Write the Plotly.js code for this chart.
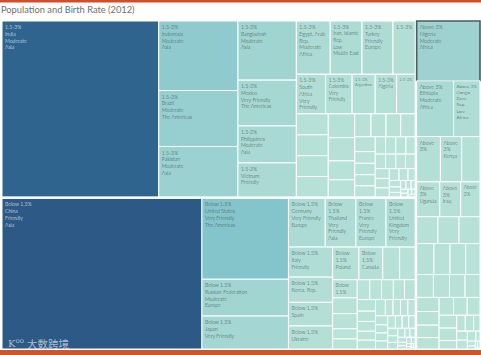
<!DOCTYPE html>
<html><head><meta charset="utf-8">
<script src="https://cdn.plot.ly/plotly-3.0.1.min.js"></script>
<style>html,body{margin:0;padding:0;background:#fff}#chart{width:481px;height:355px}</style>
</head><body><div id="chart"></div>
<script>
// ---- Birth-rate group "1.5-3%" ----
const midCountries = ['India','Indonesia','Brazil','Pakistan','Bangladesh','Mexico','Philippines','Vietnam','Egypt, Arab Rep.','Iran, Islamic Rep.','Turkey','Myanmar','South Africa','Colombia','Argentina','Algeria','Morocco','Peru','Venezuela','Uzbekistan','Malaysia','Saudi Arabia','Nepal','Syria','Sri Lanka','Kazakhstan','Ecuador','Guatemala','Cambodia','Zimbabwe','Tunisia','Bolivia','Dominican Republic','Haiti','Tajikistan','Honduras','Israel','Papua New Guinea','Paraguay','Lao PDR','Jordan','El Salvador','Libya','Nicaragua','Kyrgyz Republic','Turkmenistan','Costa Rica','Panama','Oman','Mongolia','Namibia','Lesotho','Botswana','Gabon','Bahrain','Swaziland','Fiji','Guyana','Bhutan'];
const midPop = [1237,247,199,179,155,120,97,89,81,76,74,53,52,47,41,38,33,30,30,29.8,29.2,28.3,27.5,22.4,20.3,16.8,15.5,15.1,14.9,13.7,10.8,10.5,10.3,10.2,8.0,7.9,7.9,7.2,6.7,6.6,6.3,6.3,6.2,6.0,5.6,5.2,4.8,3.8,3.3,2.8,2.3,2.1,2.0,1.6,1.3,1.2,0.87,0.8,0.75];
const midLabels = ['1.5-3%<br>India<br>Moderate<br>Asia','1.5-3%<br>Indonesia<br>Moderate<br>Asia','1.5-3%<br>Brazil<br>Moderate<br>The Americas','1.5-3%<br>Pakistan<br>Moderate<br>Asia','1.5-3%<br>Bangladesh<br>Moderate<br>Asia','1.5-3%<br>Mexico<br>Very Friendly<br>The Americas','1.5-3%<br>Philippines<br>Moderate<br>Asia','1.5-3%<br>Vietnam<br>Friendly','1.5-3%<br>Egypt, Arab<br>Rep.<br>Moderate<br>Africa','1.5-3%<br>Iran, Islamic<br>Rep.<br>Low<br>Middle East','1.5-3%<br>Turkey<br>Friendly<br>Europe','1.5-3%','1.5-3%<br>South<br>Africa<br>Very<br>Friendly','1.5-3%<br>Colombia<br>Very<br>Friendly','1.5-3%<br>Argentina','1.5-3%<br>Algeria','1.5-3%'];

// ---- Birth-rate group "Below 1.5%" ----
const lowCountries = ['China','United States','Russian Federation','Japan','Germany','Thailand','France','United Kingdom','Italy','Korea, Rep.','Spain','Ukraine','Poland','Canada','Korea, Dem. Rep.','Australia','Romania','Chile','Netherlands','Cuba','Belgium','Greece','Czech Republic','Portugal','Hungary','Sweden','Belarus','Austria','Switzerland','Bulgaria','Serbia','Hong Kong SAR','Denmark','Slovak Republic','Finland','Singapore','Norway','Georgia','New Zealand','Lebanon','Croatia','Bosnia and Herzegovina','Puerto Rico','Moldova','Uruguay','Armenia','Lithuania','Albania','Slovenia','Macedonia','Latvia','Estonia','Trinidad and Tobago','Mauritius','Cyprus','Montenegro','Luxembourg','Malta','Iceland','Barbados'];
const lowPop = [1351,314,143,128,80.4,67,65.7,63.7,59.5,50,46.8,45.6,38.5,34.9,24.8,22.7,20.1,17.5,16.8,11.3,11.1,11.1,10.5,10.5,9.9,9.5,9.5,8.4,8.0,7.3,7.2,7.2,5.6,5.4,5.4,5.3,5.0,4.5,4.4,4.4,4.3,3.8,3.7,3.6,3.4,3.0,3.0,2.8,2.1,2.1,2.0,1.3,1.3,1.3,1.1,0.6,0.5,0.4,0.3,0.3];
const lowLabels = ['Below 1.5%<br>China<br>Friendly<br>Asia','Below 1.5%<br>United States<br>Very Friendly<br>The Americas','Below 1.5%<br>Russian Federation<br>Moderate<br>Europe','Below 1.5%<br>Japan<br>Very Friendly','Below 1.5%<br>Germany<br>Very Friendly<br>Europe','Below<br>1.5%<br>Thailand<br>Very<br>Friendly<br>Asia','Below<br>1.5%<br>France<br>Very<br>Friendly<br>Europe','Below<br>1.5%<br>United<br>Kingdom<br>Very<br>Friendly','Below 1.5%<br>Italy<br>Friendly','Below 1.5%<br>Korea, Rep.','Below 1.5%<br>Spain','Below 1.5%<br>Ukraine','Below<br>1.5%<br>Poland','Below<br>1.5%<br>Canada','','','Below<br>1.5%'];

// ---- Birth-rate group "Above 3%" ----
const highCountries = ['Nigeria','Ethiopia','Congo, Dem. Rep.','Tanzania','Kenya','Sudan','Uganda','Iraq','Afghanistan','Ghana','Mozambique','Angola','Yemen','Madagascar','Cameroon',"Cote d'Ivoire",'Niger','Burkina Faso','Malawi','Mali','Zambia','Senegal','Chad','Guinea','Rwanda','South Sudan','Somalia','Benin','Burundi','Togo','Eritrea','Sierra Leone','Central African Republic','Congo, Rep.','Liberia','Mauritania','Gambia','Guinea-Bissau','Timor-Leste','Equatorial Guinea','Comoros','Sao Tome and Principe'];
const highPop = [169,92,66,48,43,37,36,32.6,30,25.4,25.2,25.1,23.9,22.3,21.7,19.8,17.2,16.5,15.9,15.3,14.1,13.7,12.4,11.5,11.5,10.8,10.2,10.1,9.8,6.6,6.1,6.0,4.5,4.3,4.2,3.8,1.8,1.7,1.1,0.74,0.72,0.19];
const highLabels = ['Above 3%<br>Nigeria<br>Moderate<br>Africa','Above 3%<br>Ethiopia<br>Moderate<br>Africa','Above 3%<br>Congo,<br>Dem.<br>Rep.<br>Low<br>Africa','Above<br>3%','Above<br>3%<br>Kenya','','Above<br>3%<br>Uganda','Above<br>3%<br>Iraq','Above<br>3%'];
const highlighted = 'Nigeria';

// ---- styling ----
const blueTeal = ['#bce4d8','#aedcd5','#a1d5d2','#95cecf','#89c8cc','#7ec1ca','#72bac6','#66b2c2','#59acbe','#4ba5ba','#419eb6','#3b96b2','#358ead','#3586a7','#347ea1','#32779b','#316f96','#2f6790','#2d608a','#2c5985'];
const colorscale = blueTeal.map((c,i)=>[i/(blueTeal.length-1), c]);
const allPop = midPop.concat(lowPop, highPop);
const cmin = Math.min(...allPop), cmax = Math.max(...allPop);

const W = 481, H = 355;
const X0 = 2, X1 = 480, Y0 = 21, Y1 = 349, GAP = 1.5;
const sum = a => a.reduce((s,v)=>s+v,0);
const sMid = sum(midPop), sLow = sum(lowPop), sHigh = sum(highPop);
const leftW = (X1-X0-GAP)*(sMid+sLow)/(sMid+sLow+sHigh);
const hMid = (Y1-Y0-GAP)*sMid/(sMid+sLow);
const dom = (xa,xb,ya,yb)=>({x:[xa/W, xb/W], y:[1-yb/H, 1-ya/H]});

function makeTrace(root, names, pops, labels, domain){
  const text = names.map((_,i)=> labels[i] || ' ');
  return {
    type:'treemap',
    ids:[root].concat(names.map(c=>root+'|'+c)),
    labels:[root].concat(names),
    parents:[''].concat(names.map(()=>root)),
    values:[0].concat(pops),
    text:[' '].concat(text),
    texttemplate:'%{text}',
    textposition:'top left',
    branchvalues:'remainder',
    sort:true,
    marker:{
      colors:[cmin].concat(pops), colorscale, cmin, cmax, showscale:false,
      line:{color:['#ffffff'].concat(names.map(c=>c===highlighted?'#4f5c5e':'#ffffff')),
            width:[1].concat(names.map(c=>c===highlighted?1.6:1))},
      pad:{t:0,l:0,r:0,b:0}
    },
    tiling:{packing:'squarify', squarifyratio:1.6, pad:0},
    pathbar:{visible:false},
    textfont:{family:'Lato, Roboto, sans-serif', size:5.2, weight:300,
      color:['#555'].concat(pops.map(p=>p>(cmax*0.6)?'#ffffff':'#3f4848'))},
    hoverinfo:'skip',
    domain
  };
}

const data = [
  makeTrace('1.5-3%', midCountries, midPop, midLabels, dom(X0, X0+leftW, Y0, Y0+hMid)),
  makeTrace('Below 1.5%', lowCountries, lowPop, lowLabels, dom(X0, X0+leftW, Y0+hMid+GAP, Y1)),
  makeTrace('Above 3%', highCountries, highPop, highLabels, dom(X0+leftW+GAP, X1, Y0, Y1))
];

const layout = {
  width:W, height:H,
  margin:{l:0,r:0,t:0,b:0},
  paper_bgcolor:'#ffffff',
  showlegend:false,
  title:{text:'Population and Birth Rate (2012)', x:1/W, xanchor:'left', xref:'paper',
         y:1-10/H, yref:'container', yanchor:'middle',
         font:{family:'Lato, sans-serif', size:9.3, weight:400, color:'#707070'}},
  shapes:[
    {type:'rect', xref:'paper', yref:'paper', x0:0, x1:1, y0:1-2.6/H, y1:1, fillcolor:'#d24e2a', line:{width:0}},
    {type:'rect', xref:'paper', yref:'paper', x0:0, x1:1, y0:0, y1:5/H, fillcolor:'#c9562f', line:{width:0}}
  ],
  annotations:[
    {text:'K<sup>oo</sup>', xref:'paper', yref:'paper', x:6/W, y:1-343/H, xanchor:'left', yanchor:'middle', showarrow:false,
     font:{family:'DejaVu Serif', size:10, color:'rgba(255,255,255,0.6)'}},
    {text:'大数跨境', xref:'paper', yref:'paper', x:25/W, y:1-343.5/H, xanchor:'left', yanchor:'middle', showarrow:false,
     font:{family:'Noto Sans CJK SC', size:10.5, color:'rgba(255,255,255,0.6)'}}
  ]
};

Plotly.newPlot('chart', data, layout, {displayModeBar:false, staticPlot:true});
</script>
</body></html>
